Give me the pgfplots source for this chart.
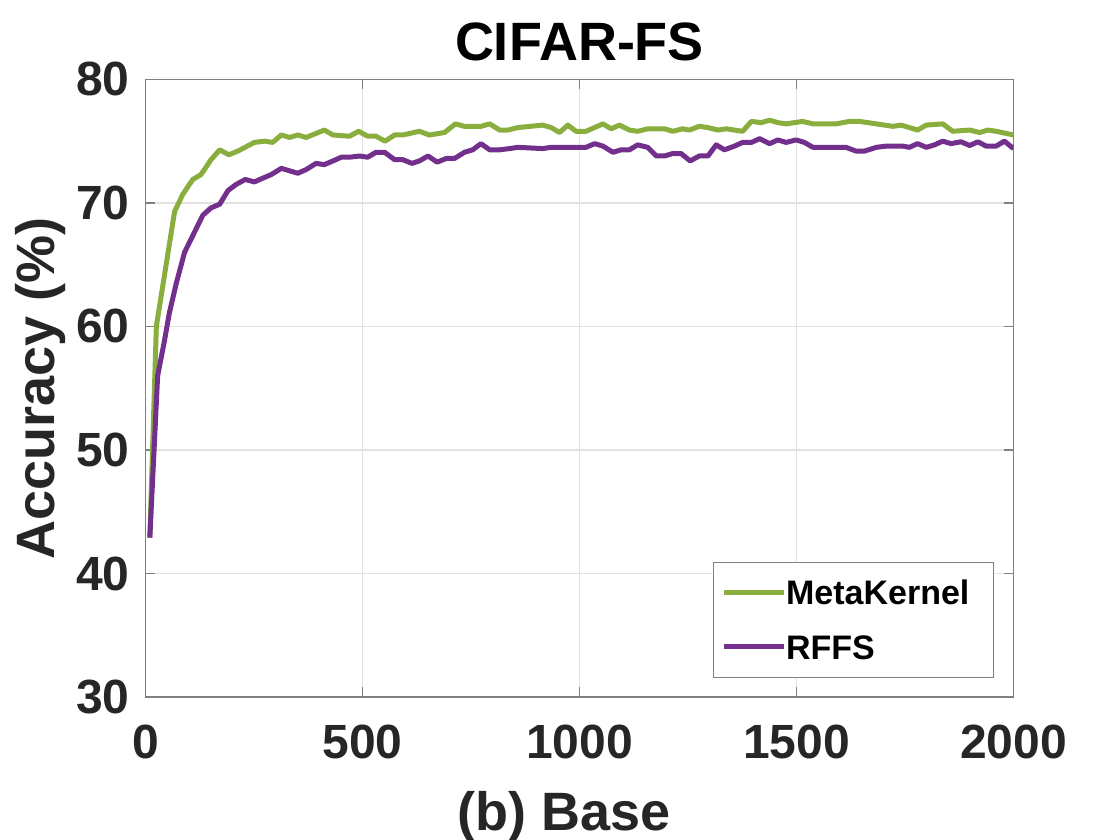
\documentclass[border=0pt]{standalone}
\usepackage{pgfplots}
\pgfplotsset{compat=1.18}
\usepackage{fontspec}
\setmainfont{Liberation Sans}
\definecolor{mkgreen}{RGB}{137,174,61}
\definecolor{rfpurple}{RGB}{114,48,140}
\definecolor{axgray}{RGB}{128,128,128}
\definecolor{gridgray}{RGB}{226,226,226}
\definecolor{txtgray}{RGB}{38,38,38}
\begin{document}
\begin{tikzpicture}
\useasboundingbox (-72.75bp,-71.5bp) rectangle (487.25bp,348.5bp);
\begin{axis}[
  scale only axis,
  width=434bp, height=308.8bp,
  xmin=0, xmax=2000, ymin=30, ymax=80,
  xtick={0,500,1000,1500,2000},
  ytick={30,40,50,60,70,80},
  tick align=inside,
  major tick length=5bp,
  axis line style={draw=axgray, line width=0.6bp},
  every tick/.style={draw=axgray, line width=0.6bp},
  grid=major,
  major grid style={draw=gridgray, line width=0.6bp},
  /pgf/number format/assume math mode=true,
  /pgf/number format/1000 sep={},
  tick label style={font=\bfseries\fontsize{24bp}{28bp}\selectfont, text=txtgray},
  yticklabel style={inner xsep=0pt, anchor=east, xshift=-7.75bp},
  xticklabel style={inner ysep=0pt, anchor=north, yshift=-14bp},
  every axis title shift=0pt,
  title={CIFAR-FS},
  title style={font=\bfseries\fontsize{27bp}{32bp}\selectfont, at={(rel axis cs:0.5,1)}, anchor=base, yshift=9.5bp, inner sep=0pt},
  xlabel={(b) Base},
  every axis x label/.style={at={(rel axis cs:0.5,0)}, anchor=base, yshift=-66.5bp, xshift=-7.75bp, inner sep=0pt, font=\bfseries\fontsize{27bp}{32bp}\selectfont, text=txtgray},
  ylabel={Accuracy (\%)},
  every axis y label/.style={at={(rel axis cs:0,0.5)}, xshift=-45.25bp, rotate=90, anchor=base, inner sep=0pt, font=\bfseries\fontsize{27bp}{32bp}\selectfont, text=txtgray},
  legend style={at={(rel axis cs:1,0)}, anchor=south east, xshift=-9.75bp, yshift=9.65bp,
    draw=axgray, line width=0.6bp, fill=white,
    font=\bfseries\fontsize{17bp}{20bp}\selectfont,
    inner xsep=4bp, inner ysep=9bp, row sep=14.9bp,
    nodes={inner sep=0pt, text height=12.2bp, text depth=0pt}},
  legend cell align=left,
  legend image code/.code={\draw[#1, line width=2.5bp] (0bp,0bp) -- (30bp,0bp);},
  every axis plot/.append style={line width=2.5bp, line join=round},
]
\addplot[mkgreen] coordinates {
(10,42.9) (25,60.0) (67,69.3) (86,70.7) (109,71.9) (128,72.3) (151,73.5) (171,74.3)
(192,73.9) (213,74.2) (251,74.9) (274,75.0) (293,74.9) (313,75.5) (332,75.3) (351,75.5)
(370,75.3) (412,75.9) (432,75.5) (470,75.4) (491,75.8) (512,75.4) (531,75.4) (552,75.0)
(574,75.5) (593,75.5) (631,75.8) (654,75.5) (689,75.7) (714,76.4) (735,76.2) (773,76.2)
(793,76.4) (816,75.9) (835,75.9) (858,76.1) (915,76.3) (935,76.1) (954,75.7) (973,76.3)
(992,75.8) (1015,75.8) (1054,76.4) (1073,76.0) (1092,76.3) (1115,75.9) (1134,75.8) (1157,76.0)
(1196,76.0) (1215,75.8) (1238,76.0) (1253,75.9) (1276,76.2) (1296,76.1) (1319,75.9) (1338,76.0)
(1357,75.9) (1376,75.8) (1396,76.6) (1419,76.5) (1438,76.7) (1457,76.5) (1476,76.4) (1514,76.6)
(1538,76.4) (1591,76.4) (1622,76.6) (1645,76.6) (1684,76.4) (1703,76.3) (1722,76.2) (1741,76.3)
(1760,76.1) (1779,75.9) (1799,76.3) (1837,76.4) (1860,75.8) (1899,75.9) (1922,75.7) (1941,75.9)
(1960,75.8) (2000,75.5)
};
\addlegendentry{MetaKernel\hspace*{8bp}}
\addplot[rfpurple] coordinates {
(10,42.9) (28,56.0) (44,58.9) (55,61.1) (71,63.5) (90,66.0) (111,67.5) (132,69.0)
(151,69.6) (171,69.9) (190,71.0) (209,71.5) (230,71.9) (251,71.7) (270,72.0) (290,72.3)
(313,72.8) (332,72.6) (351,72.4) (370,72.7) (393,73.2) (412,73.1) (432,73.4) (451,73.7)
(470,73.7) (493,73.8) (512,73.7) (531,74.1) (551,74.1) (574,73.5) (593,73.5) (614,73.2)
(631,73.4) (651,73.8) (672,73.3) (693,73.6) (712,73.6) (735,74.1) (754,74.3) (773,74.8)
(793,74.3) (816,74.3) (839,74.4) (858,74.5) (915,74.4) (935,74.5) (1000,74.5) (1015,74.5)
(1035,74.8) (1054,74.6) (1077,74.1) (1096,74.3) (1115,74.3) (1134,74.7) (1157,74.5) (1177,73.8)
(1196,73.8) (1215,74.0) (1234,74.0) (1255,73.4) (1276,73.8) (1296,73.8) (1315,74.7) (1334,74.3)
(1357,74.6) (1376,74.9) (1396,74.9) (1415,75.2) (1438,74.8) (1457,75.1) (1476,74.9) (1499,75.1)
(1518,74.9) (1538,74.5) (1591,74.5) (1614,74.5) (1637,74.2) (1657,74.2) (1684,74.5) (1707,74.6)
(1745,74.6) (1760,74.5) (1779,74.8) (1799,74.5) (1818,74.7) (1837,75.0) (1856,74.8) (1879,74.95)
(1899,74.65) (1918,74.95) (1937,74.6) (1960,74.6) (1979,75.0) (2000,74.4)
};
\addlegendentry{RFFS}
\end{axis}
\end{tikzpicture}
\end{document}
